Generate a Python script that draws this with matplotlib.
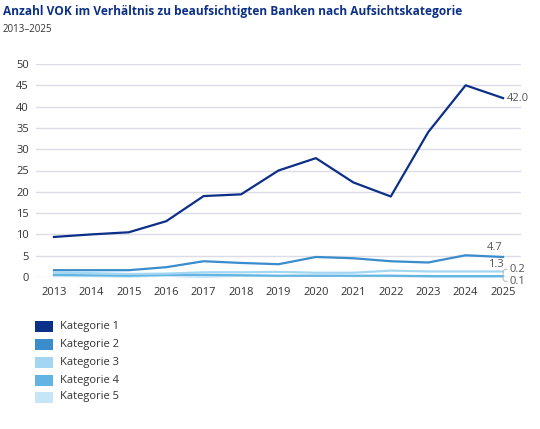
import matplotlib
matplotlib.use("Agg")
import matplotlib.pyplot as plt
from matplotlib.patches import Rectangle

years = [2013, 2014, 2015, 2016, 2017, 2018, 2019, 2020, 2021, 2022, 2023, 2024, 2025]
kat1 = [9.4, 10.0, 10.5, 13.1, 19.0, 19.4, 25.0, 27.9, 22.2, 18.9, 34.0, 45.0, 42.0]
kat2 = [1.6, 1.6, 1.6, 2.3, 3.7, 3.3, 3.0, 4.7, 4.4, 3.7, 3.4, 5.1, 4.7]
kat3 = [1.0, 0.9, 0.7, 0.8, 1.1, 1.1, 1.2, 1.0, 1.0, 1.5, 1.3, 1.3, 1.3]
kat4 = [0.5, 0.4, 0.3, 0.5, 0.5, 0.4, 0.3, 0.3, 0.3, 0.3, 0.2, 0.2, 0.2]
kat5 = [0.2, 0.2, 0.1, 0.3, 0.0, 0.3, 0.2, 0.3, 0.2, 0.2, 0.1, 0.1, 0.1]
series_names = ["Kategorie 1", "Kategorie 2", "Kategorie 3", "Kategorie 4", "Kategorie 5"]
yticks = [0, 5, 10, 15, 20, 25, 30, 35, 40, 45, 50]

colors = ["#0c3087", "#3a8ccc", "#a2d6f2", "#62b4e3", "#c6e6f8"]
text_grey = "#555555"

plt.rcParams['font.family'] = ['Open Sans', 'DejaVu Sans']

W, H = 540, 429
fig = plt.figure(figsize=(W / 100, H / 100), dpi=100)

left, right, top, bottom = 36, 521, 64, 277
ax = fig.add_axes([left / W, 1 - bottom / H, (right - left) / W, (bottom - top) / H])

data = [kat1, kat2, kat3, kat4, kat5]
order = [4, 3, 2, 1, 0]
for i in order:
    ax.plot(years, data[i], color=colors[i], lw=1.6, clip_on=False, zorder=3 + (4 - i),
            solid_joinstyle='round')

ax.set_xlim(2012.52, 2025.48)
ax.set_ylim(0, 50)
ax.set_yticks(yticks)
ax.set_xticks(years)
ax.set_xticklabels([str(y) for y in years])
ax.grid(axis='y', color='#dcdce6', lw=1.0, zorder=0)
ax.set_axisbelow(True)
for s in ax.spines.values():
    s.set_visible(False)
ax.tick_params(axis='both', length=0, labelsize=8, colors='#333333')
ax.tick_params(axis='y', pad=5)
ax.tick_params(axis='x', pad=7)

# end labels
lab = dict(fontsize=8, color=text_grey, zorder=20)
ax.annotate(f"{kat1[-1]:.1f}", (years[-1], kat1[-1]), xytext=(3, 0), textcoords='offset points',
            va='center', ha='left', **lab)
ax.annotate(f"{kat2[-1]:.1f}", (years[-1], kat2[-1]), xytext=(-6, 3), textcoords='offset points',
            va='bottom', ha='center', **lab)
ax.annotate(f"{kat3[-1]:.1f}", (years[-1], kat3[-1]), xytext=(-5, 1), textcoords='offset points',
            va='bottom', ha='center', **lab)
conn = dict(arrowstyle='-', color='#bbbbbb', lw=0.7,
            connectionstyle='angle,angleA=0,angleB=90,rad=3', shrinkA=0, shrinkB=0)
ax.annotate(f"{kat4[-1]:.1f}", (years[-1], kat4[-1]), xytext=(5, 5), textcoords='offset points',
            va='center', ha='left', arrowprops=conn, **lab)
ax.annotate(f"{kat5[-1]:.1f}", (years[-1], kat5[-1]), xytext=(5, -3.5), textcoords='offset points',
            va='center', ha='left', arrowprops=conn, **lab)

# title
fig.text(3 / W, 1 - 12 / H, "Anzahl VOK im Verhältnis zu beaufsichtigten Banken nach Aufsichtskategorie",
         fontsize=8.55, fontweight='bold', color='#0c3087', va='center', ha='left')
fig.text(3 / W, 1 - 30 / H, "2013–2025", fontsize=7, color='#333333', va='center', ha='left')

# legend
row_y = [326, 344, 362, 380, 397]
for name, c, yy in zip(series_names, colors, row_y):
    fig.patches.append(Rectangle((35 / W, 1 - (yy + 5.5) / H), 18 / W, 11 / H,
                                 transform=fig.transFigure, facecolor=c, edgecolor='none'))
    fig.text(60 / W, 1 - yy / H, name, fontsize=8, color='#333333', va='center', ha='left')

fig.savefig("out.png", dpi=100)
